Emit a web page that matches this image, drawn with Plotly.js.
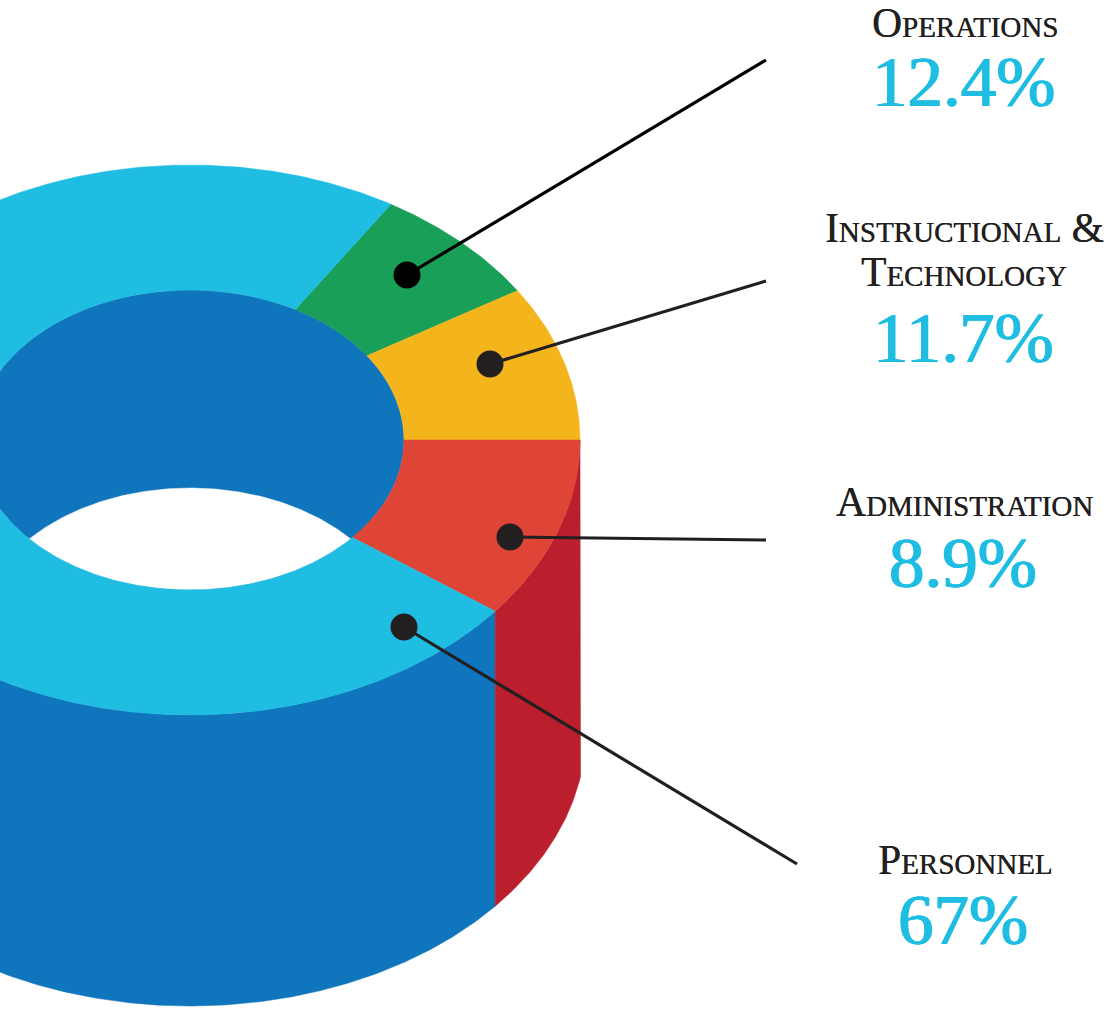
<!DOCTYPE html>
<html>
<head>
<meta charset="utf-8">
<script src="https://cdn.plot.ly/plotly-3.0.1.min.js"></script>
<style>html,body{margin:0;padding:0;background:#fff}#chart{width:1117px;height:1010px}</style>
</head>
<body>
<div id="chart"></div>
<script>
// ---- data ----
var categories = ['Operations', 'Instructional &<br>Technology', 'Administration', 'Personnel'];
var shares = [12.4, 11.7, 8.9, 67];
var shareLabels = ['12.4%', '11.7%', '8.9%', '67%'];
// where each slice starts on the ring, as drawn (the artwork is not proportional to the shares)
var outerEdgeDeg = [-59, -32.9, 0, 38.5];
var innerEdgeDeg = [-60.5, -34.2, 0, 40.6];
var topColors = ['#1a9f58', '#f4b51c', '#de4537', '#1fbde2'];
var sideRed = '#bb1e2c';
var sideBlue = '#0f75bc';
var ink = '#231f20';
var dotX = [407, 490, 510, 404];
var dotY = [275, 364, 537, 627];
var tailX = [766, 766, 766, 797];
var tailY = [60, 281, 540, 864];
var leaderColors = ['#000000', ink, ink, ink];

// ---- geometry of the drum ----
var C = {x: 190, y: 440, rx: 390, ry: 275, irx: 214, iry: 150, botY: 731, botRx: 396, clipX: 580.5, holeShift: 198};
function rad(d) { return d * Math.PI / 180; }
function arc(cx, cy, rx, ry, a, b) {
  var xs = [], ys = [], n = Math.max(2, Math.ceil(Math.abs(b - a) * 2));
  for (var i = 0; i <= n; i++) {
    var t = rad(a + (b - a) * i / n);
    xs.push(cx + rx * Math.cos(t)); ys.push(cy + ry * Math.sin(t));
  }
  return {x: xs, y: ys};
}
function poly(parts, color) {
  var x = [], y = [];
  parts.forEach(function (p) { x = x.concat(p.x); y = y.concat(p.y); });
  x.push(x[0]); y.push(y[0]);
  return {type: 'scatter', mode: 'lines', x: x, y: y, fill: 'toself', fillcolor: color,
          line: {color: color, width: 0.5}, hoverinfo: 'skip', showlegend: false};
}
var traces = [];

// side walls
var seam = outerEdgeDeg[3];
var seamX = C.x + C.rx * Math.cos(rad(seam));
var botSeam = Math.acos((seamX - C.x) / C.botRx) * 180 / Math.PI;
var botClip = Math.acos((C.clipX - C.x) / C.botRx) * 180 / Math.PI;
traces.push(poly([
  arc(C.x, C.botY, C.botRx, C.ry, botSeam, 180),
  arc(C.x, C.y, C.rx, C.ry, 180, seam)
], sideBlue));
traces.push(poly([
  arc(C.x, C.y, C.rx, C.ry, 0, seam),
  arc(C.x, C.botY, C.botRx, C.ry, botSeam, botClip)
], sideRed));

// inner wall
traces.push(poly([arc(C.x, C.y, C.irx, C.iry, 0, 360)], sideBlue));

// visible opening: inner rim below, the inner wall's lower rim above
var tip = Math.asin(C.holeShift / 2 / C.iry) * 180 / Math.PI;
traces.push(poly([
  arc(C.x, C.y, C.irx, C.iry, tip, 180 - tip),
  arc(C.x, C.y + C.holeShift, C.irx, C.iry, 180 + tip, 360 - tip)
], '#ffffff'));

// top face of the ring
categories.forEach(function (c, i) {
  var j = (i + 1) % categories.length;
  var oEnd = j === 0 ? outerEdgeDeg[0] + 360 : outerEdgeDeg[j];
  var iEnd = j === 0 ? innerEdgeDeg[0] + 360 : innerEdgeDeg[j];
  traces.push(poly([
    arc(C.x, C.y, C.rx, C.ry, outerEdgeDeg[i], oEnd),
    arc(C.x, C.y, C.irx, C.iry, iEnd, innerEdgeDeg[i])
  ], topColors[i]));
});

// leaders and dots
categories.forEach(function (c, i) {
  traces.push({type: 'scatter', mode: 'lines', x: [dotX[i], tailX[i]], y: [dotY[i], tailY[i]],
    line: {color: leaderColors[i], width: 3.2}, hoverinfo: 'skip', showlegend: false});
});
categories.forEach(function (c, i) {
  traces.push({type: 'scatter', mode: 'markers', x: [dotX[i]], y: [dotY[i]],
    marker: {size: 27, color: leaderColors[i], line: {width: 0}}, hoverinfo: 'skip', showlegend: false});
});

// labels
var labelX = [965, 964, 964, 965], labelY = [23, 228, 502, 860];
var labelLineGap = 44;
var valueX = [963, 963, 963, 963], valueY = [82, 338, 563, 920];
var cyan = '#1fbde2';
var annotations = [];
categories.forEach(function (c, i) {
  c.split('<br>').forEach(function (line, k) {
    annotations.push({xref: 'x', yref: 'y', x: labelX[i], y: labelY[i] + k * labelLineGap, text: line, showarrow: false,
      xanchor: 'center', yanchor: 'middle', align: 'center',
      font: {family: 'Liberation Serif', size: 41.5, color: ink, variant: 'small-caps',
             shadow: '0.3px 0 0 ' + ink}});
  });
  annotations.push({xref: 'x', yref: 'y', x: valueX[i], y: valueY[i], text: shareLabels[i], showarrow: false,
    xanchor: 'center', yanchor: 'middle',
    font: {family: 'Liberation Serif', size: 71, color: cyan,
           shadow: '0.7px 0 0 ' + cyan + ', -0.7px 0 0 ' + cyan}});
});

Plotly.newPlot('chart', traces, {
  width: 1117, height: 1010, margin: {l: 0, r: 0, t: 0, b: 0},
  paper_bgcolor: '#ffffff', plot_bgcolor: '#ffffff', showlegend: false,
  xaxis: {range: [0, 1117], visible: false, fixedrange: true},
  yaxis: {range: [1010, 0], visible: false, fixedrange: true},
  annotations: annotations
}, {displayModeBar: false, staticPlot: true});
</script>
</body>
</html>
